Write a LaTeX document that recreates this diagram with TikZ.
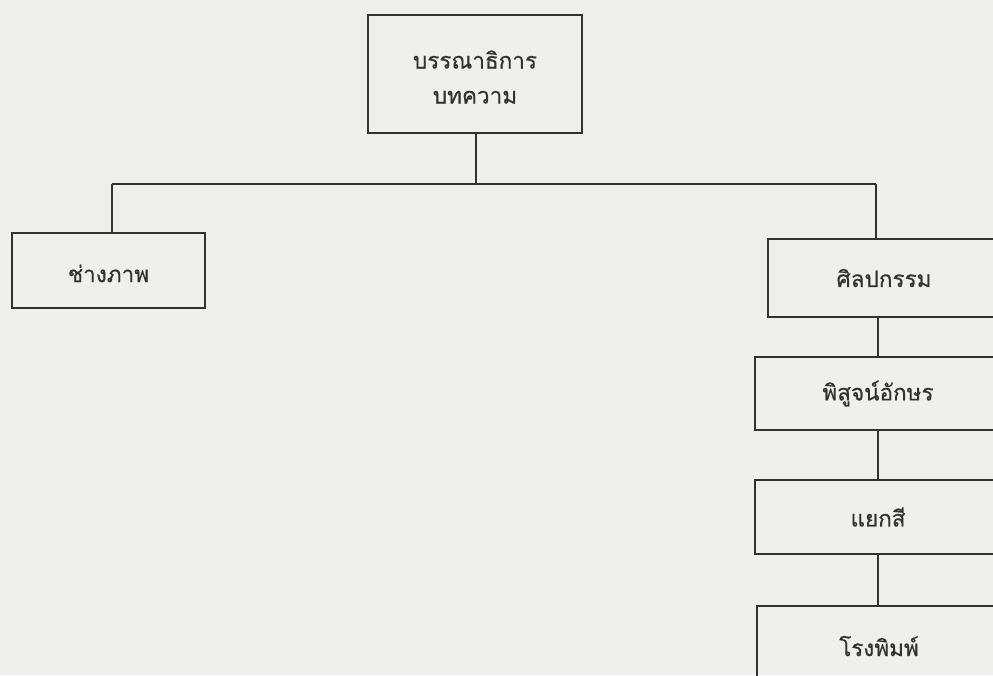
\documentclass[tikz,border=0pt]{standalone}
\usepackage{fontspec}
\newfontfamily\thaifont[Script=Thai,FakeBold=0.5]{Loma}
\definecolor{bg}{RGB}{239,239,237}
\definecolor{ink}{RGB}{50,50,50}
\newcommand{\lowerby}[2]{\raisebox{-#1}[\height][\depth]{#2}}
\begin{document}
\begin{tikzpicture}[x=1pt,y=-1pt,
  box/.style={draw=ink,line width=1.5pt,rectangle,inner sep=0pt,text=ink,
    font=\thaifont\fontsize{22.5}{35}\selectfont,align=center},
  link/.style={draw=ink,line width=1.5pt}]
\useasboundingbox (0,0) rectangle (993,675);
\clip (0,0) rectangle (993,675);
\fill[bg] (0,0) rectangle (993,675);
\node[box,minimum width=214pt,minimum height=118pt] (top) at (475,74) {\lowerby{5pt}{\begin{tabular}{@{}c@{}}บรรณาธิการ\\บทความ\end{tabular}}};
\node[box,minimum width=193pt,minimum height=75pt] (photo) at (108.5,270.5) {\lowerby{3pt}{ช่างภาพ}};
\node[box,minimum width=232pt,minimum height=78pt] (art) at (884,278) {ศิลปกรรม};
\node[box,minimum width=246pt,minimum height=73pt] (proof) at (878,393.5) {พิสูจน์อักษร};
\node[box,minimum width=246pt,minimum height=74pt] (sep) at (878,517) {แยกสี};
\node[box,minimum width=244pt,minimum height=80pt] (press) at (879,646) {โรงพิมพ์};
\coordinate (hm) at (476,184);
\coordinate (hl) at (112,184);
\coordinate (hr) at (876,184);
\coordinate (vr) at (878,0);
\draw[link] (top.south -| hm) -- (hm);
\draw[link] (hl) -- (hr);
\draw[link] (hl) -- (hl |- photo.north);
\draw[link] (hr) -- (hr |- art.north);
\draw[link] (art.south -| vr) -- (proof.north -| vr);
\draw[link] (proof.south -| vr) -- (sep.north -| vr);
\draw[link] (sep.south -| vr) -- (press.north -| vr);
\end{tikzpicture}
\end{document}
